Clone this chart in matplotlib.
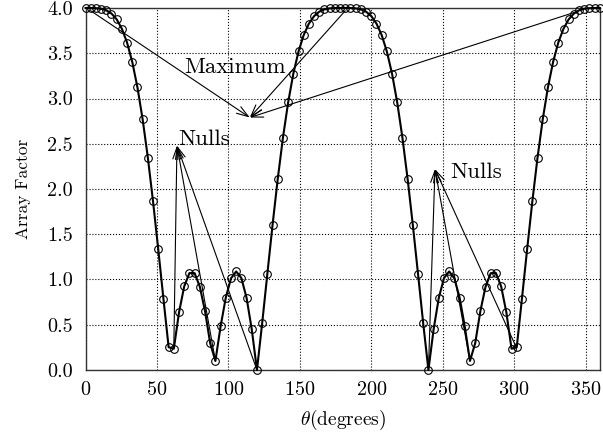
import numpy as np
import matplotlib
matplotlib.use('Agg')
import matplotlib.pyplot as plt

plt.rcParams.update({
    'font.family': 'serif',
    'font.serif': ['cmr10', 'DejaVu Serif'],
    'mathtext.fontset': 'cm',
    'axes.unicode_minus': False,
    'axes.formatter.use_mathtext': True,
})

# sampled angles (degrees)
theta = [0.00, 3.64, 7.27, 10.91, 14.55, 18.18, 21.82, 25.45, 29.09, 32.73,
         36.36, 40.00, 43.64, 47.27, 50.91, 54.55, 58.18, 61.82, 65.45, 69.09,
         72.73, 76.36, 80.00, 83.64, 87.27, 90.91, 94.55, 98.18, 101.82, 105.45,
         109.09, 112.73, 116.36, 120.00, 123.64, 127.27, 130.91, 134.55, 138.18, 141.82,
         145.45, 149.09, 152.73, 156.36, 160.00, 163.64, 167.27, 170.91, 174.55, 178.18,
         181.82, 185.45, 189.09, 192.73, 196.36, 200.00, 203.64, 207.27, 210.91, 214.55,
         218.18, 221.82, 225.45, 229.09, 232.73, 236.36, 240.00, 243.64, 247.27, 250.91,
         254.55, 258.18, 261.82, 265.45, 269.09, 272.73, 276.36, 280.00, 283.64, 287.27,
         290.91, 294.55, 298.18, 301.82, 305.45, 309.09, 312.73, 316.36, 320.00, 323.64,
         327.27, 330.91, 334.55, 338.18, 341.82, 345.45, 349.09, 352.73, 356.36, 360.00]

# array factor
af = [4.000, 4.000, 3.998, 3.992, 3.975, 3.939, 3.875, 3.771, 3.618, 3.404,
      3.122, 2.769, 2.346, 1.862, 1.334, 0.786, 0.252, 0.235, 0.637, 0.924,
      1.071, 1.070, 0.921, 0.651, 0.295, 0.100, 0.481, 0.800, 1.012, 1.089,
      1.016, 0.797, 0.449, 0.000, 0.516, 1.061, 1.603, 2.111, 2.566, 2.956,
      3.274, 3.520, 3.702, 3.828, 3.911, 3.960, 3.985, 3.996, 4.000, 4.000,
      4.000, 4.000, 3.996, 3.985, 3.960, 3.911, 3.828, 3.702, 3.520, 3.274,
      2.956, 2.566, 2.111, 1.603, 1.061, 0.516, 0.000, 0.449, 0.797, 1.016,
      1.089, 1.012, 0.800, 0.481, 0.100, 0.295, 0.651, 0.921, 1.070, 1.071,
      0.924, 0.637, 0.235, 0.252, 0.786, 1.334, 1.862, 2.346, 2.769, 3.122,
      3.404, 3.618, 3.771, 3.875, 3.939, 3.975, 3.992, 3.998, 4.000, 4.000]

xticks = [0, 50, 100, 150, 200, 250, 300, 350]
yticks = [0.0, 0.5, 1.0, 1.5, 2.0, 2.5, 3.0, 3.5, 4.0]

# annotations: arrow tip and the points the arrows come from
max_tip = (115, 2.79)
max_from = [(3.6, 3.97), (181.8, 3.97), (341.8, 3.95)]
nl_tip = (64, 2.48)
nl_from = [(61.8, 0.24), (90.9, 0.10), (120.0, 0.0)]
nr_tip = (244.6, 2.22)
nr_from = [(240.0, 0.0), (269.1, 0.10), (301.8, 0.24)]

fig = plt.figure(figsize=(6.03, 4.34), dpi=100)
ax = fig.add_axes([0.1418, 0.1475, 0.853, 0.834])

ax.plot(theta, af, color='black', lw=1.5, marker='o', markersize=5.5,
        markerfacecolor='none', markeredgewidth=0.8, clip_on=False, zorder=3)

for tip, pts in [(max_tip, max_from), (nl_tip, nl_from), (nr_tip, nr_from)]:
    for p in pts:
        ax.annotate('', xy=tip, xytext=p,
                    arrowprops=dict(arrowstyle='->, head_width=0.2, head_length=0.6',
                                    lw=0.8, color='black',
                                    shrinkA=0, shrinkB=0, mutation_scale=14))

ax.text(69.4, 3.35, 'Maximum', fontsize=16.5, va='center', ha='left')
ax.text(65.2, 2.55, 'Nulls', fontsize=16.5, va='center', ha='left')
ax.text(255, 2.19, 'Nulls', fontsize=16.5, va='center', ha='left')

ax.set_xlim(0, 360)
ax.set_ylim(0, 4)
ax.set_xticks(xticks)
ax.set_yticks(yticks)
ax.set_yticklabels(['%.1f' % v for v in yticks])
ax.tick_params(length=0, labelsize=14.5)
ax.tick_params(axis='y', pad=9)
ax.tick_params(axis='x', pad=8)
ax.grid(True, linestyle=':', color='black', lw=0.8)
for s in ax.spines.values():
    s.set_color('#333333')
    s.set_linewidth(1.0)

ax.set_xlabel(r'$\theta$(degrees)', fontsize=14, labelpad=6)
ax.set_ylabel('Array Factor', fontsize=12.5, labelpad=12)

plt.savefig('out.png', dpi=100)
